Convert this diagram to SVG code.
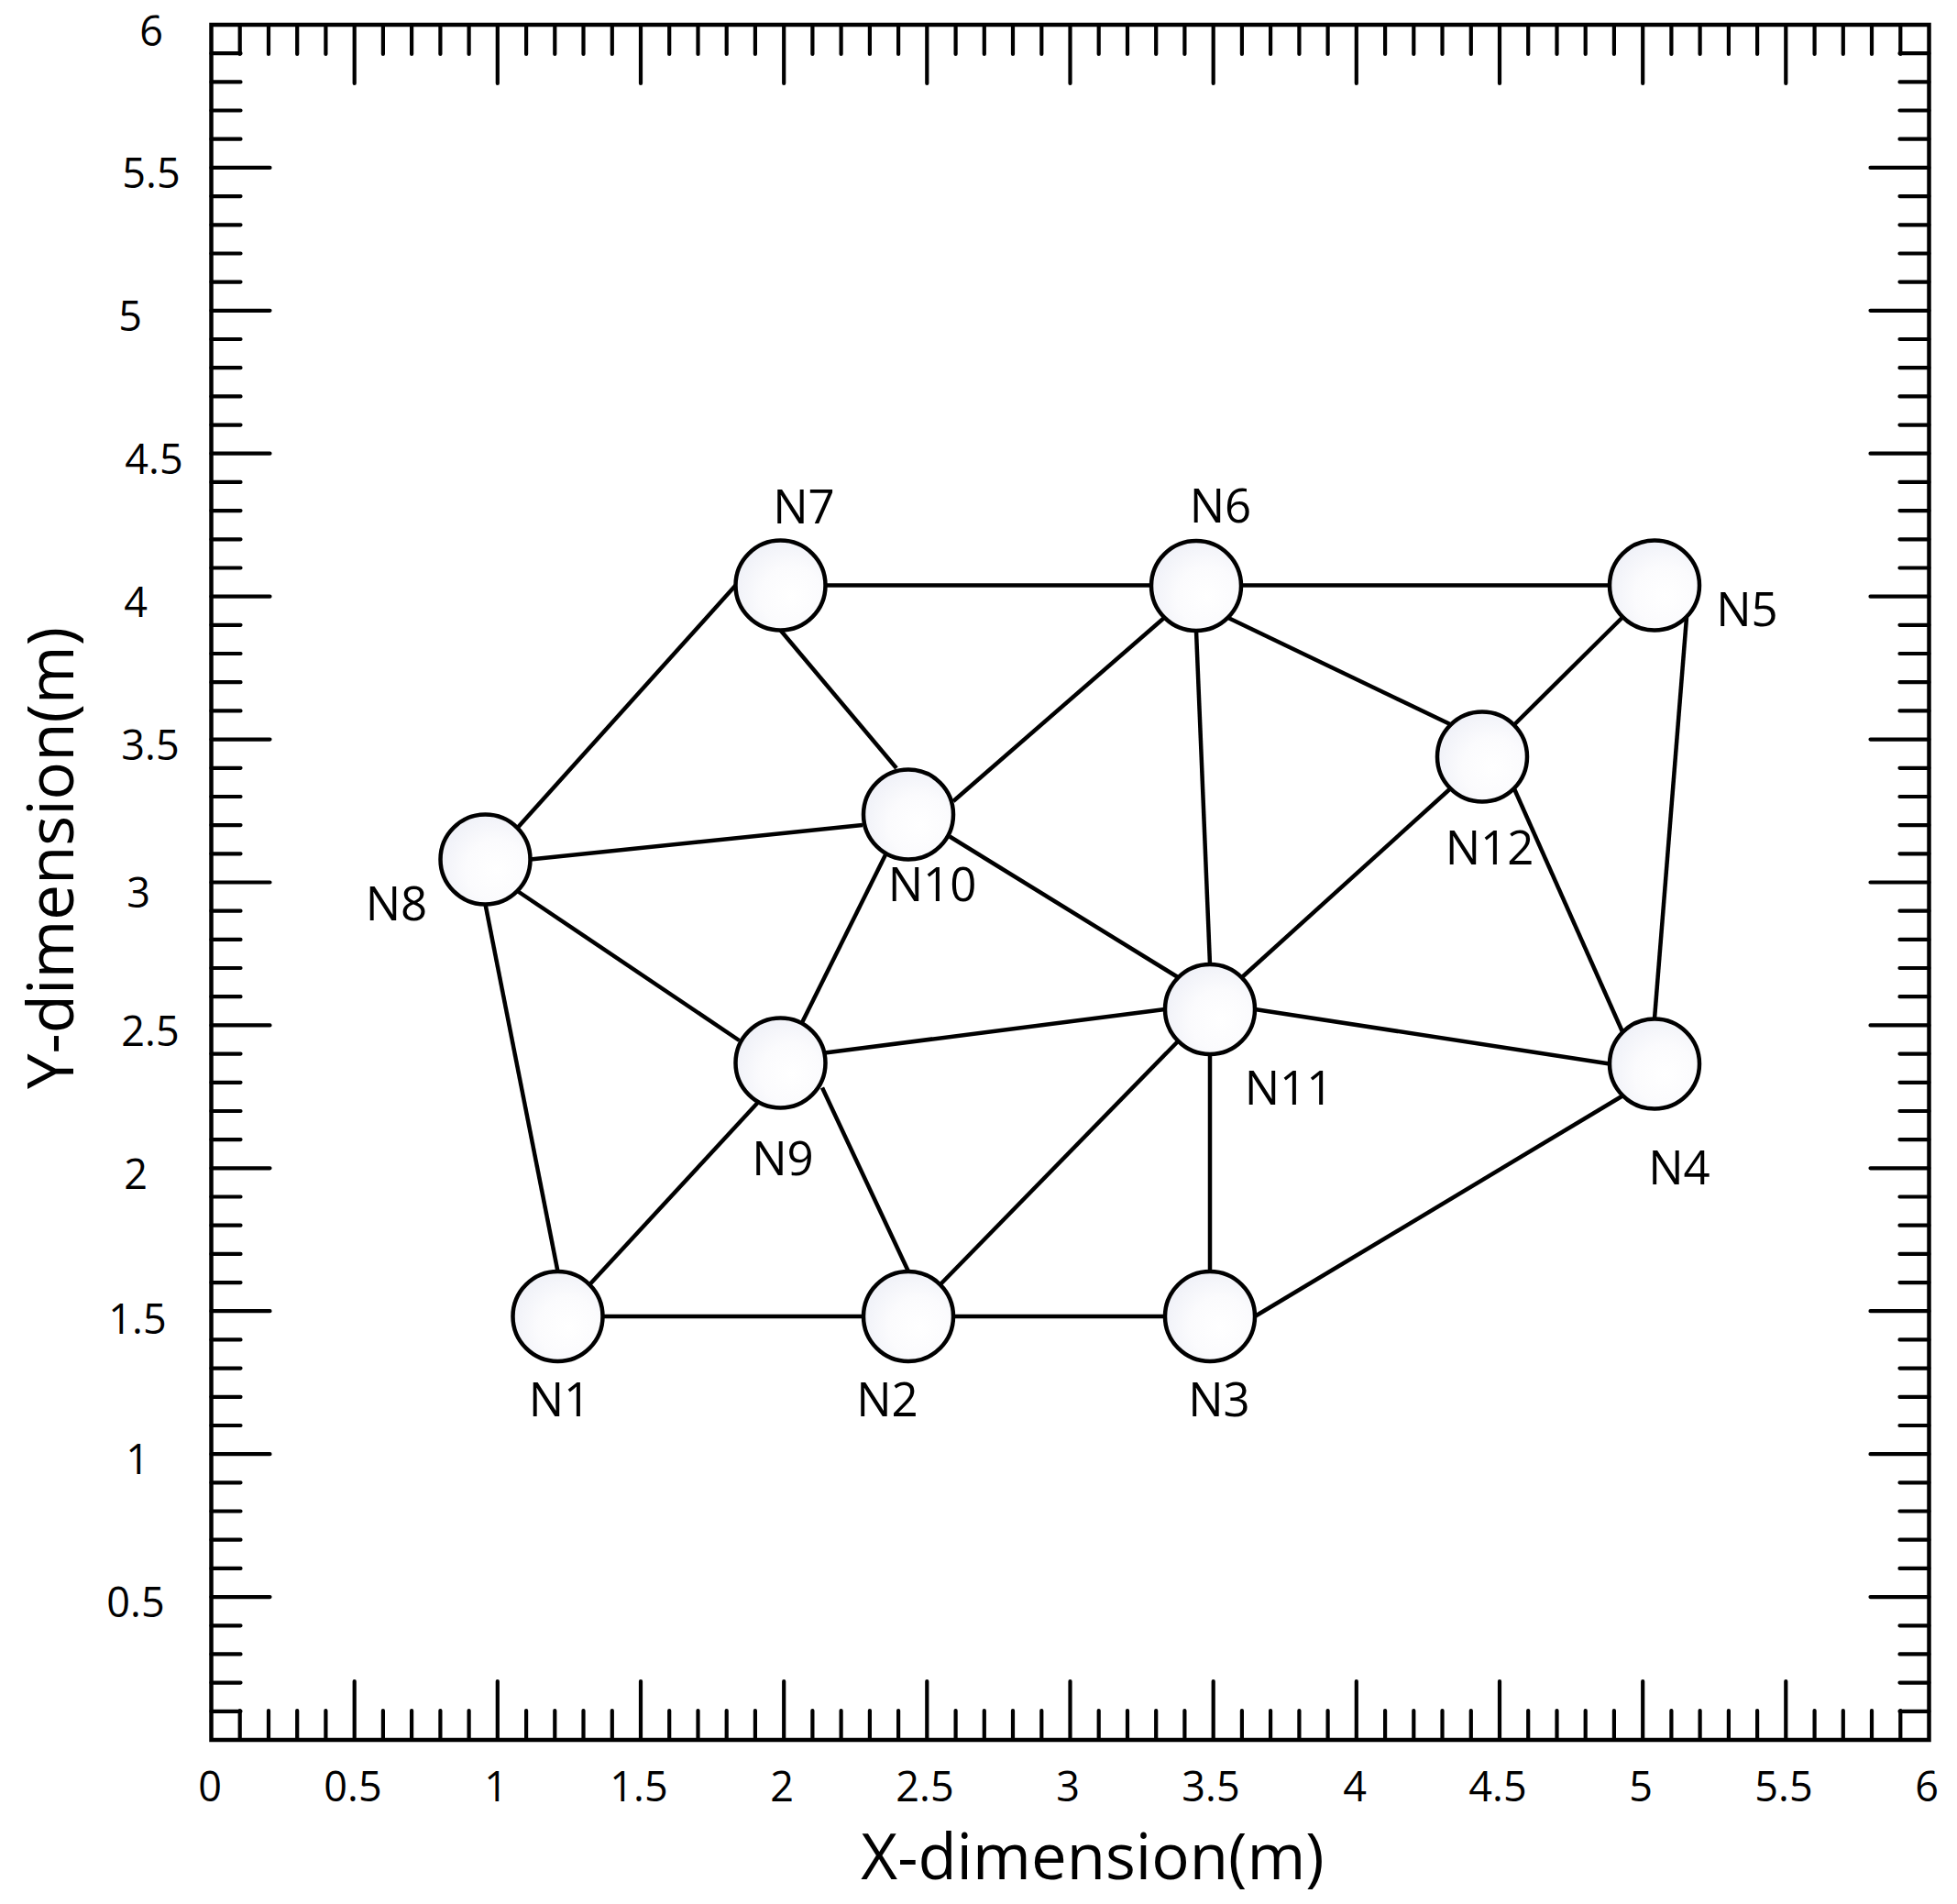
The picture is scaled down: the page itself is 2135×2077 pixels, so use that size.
<svg xmlns="http://www.w3.org/2000/svg" width="2135" height="2077" viewBox="0 0 2135 2077">
<defs>
<radialGradient id="nodeFill" cx="0.62" cy="0.62" r="0.75" fx="0.62" fy="0.62">
<stop offset="0" stop-color="#ffffff"/>
<stop offset="0.45" stop-color="#fbfbfd"/>
<stop offset="1" stop-color="#eceef6"/>
</radialGradient>
</defs>
<style>
.frame{fill:none;stroke:#000;stroke-width:4.5}
.tick{fill:none;stroke:#000;stroke-width:4.2;stroke-linecap:round}
.edge{stroke:#000;stroke-width:4.5;fill:none}
.node circle{fill:url(#nodeFill);stroke:#000;stroke-width:4.5}
.num{font-family:"Open Sans","Noto Sans","DejaVu Sans",sans-serif;font-size:45px;fill:#000;text-anchor:middle}
.lbl{font-family:"Open Sans","Noto Sans","DejaVu Sans",sans-serif;font-size:51px;fill:#000;text-anchor:middle}
.title{font-family:"Open Sans","Noto Sans","DejaVu Sans",sans-serif;font-size:69px;fill:#000;text-anchor:middle}
</style>
<rect width="2135" height="2077" fill="#ffffff"/>
<g id="axes">
<rect class="frame" x="230.5" y="27" width="1874" height="1871"/>
<path class="tick" d="M261.7 27v32M293.0 27v32M324.2 27v32M355.4 27v32M417.9 27v32M449.1 27v32M480.4 27v32M511.6 27v32M574.1 27v32M605.3 27v32M636.5 27v32M667.8 27v32M730.2 27v32M761.5 27v32M792.7 27v32M823.9 27v32M886.4 27v32M917.6 27v32M948.9 27v32M980.1 27v32M1042.6 27v32M1073.8 27v32M1105.0 27v32M1136.3 27v32M1198.7 27v32M1230.0 27v32M1261.2 27v32M1292.4 27v32M1354.9 27v32M1386.1 27v32M1417.4 27v32M1448.6 27v32M1511.1 27v32M1542.3 27v32M1573.5 27v32M1604.8 27v32M1667.2 27v32M1698.5 27v32M1729.7 27v32M1760.9 27v32M1823.4 27v32M1854.6 27v32M1885.9 27v32M1917.1 27v32M1979.6 27v32M2010.8 27v32M2042.0 27v32M2073.3 27v32"/>
<path class="tick" d="M386.7 27v64M542.8 27v64M699.0 27v64M855.2 27v64M1011.3 27v64M1167.5 27v64M1323.7 27v64M1479.8 27v64M1636.0 27v64M1792.2 27v64M1948.3 27v64"/>
<path class="tick" d="M261.7 1898v-32M293.0 1898v-32M324.2 1898v-32M355.4 1898v-32M417.9 1898v-32M449.1 1898v-32M480.4 1898v-32M511.6 1898v-32M574.1 1898v-32M605.3 1898v-32M636.5 1898v-32M667.8 1898v-32M730.2 1898v-32M761.5 1898v-32M792.7 1898v-32M823.9 1898v-32M886.4 1898v-32M917.6 1898v-32M948.9 1898v-32M980.1 1898v-32M1042.6 1898v-32M1073.8 1898v-32M1105.0 1898v-32M1136.3 1898v-32M1198.7 1898v-32M1230.0 1898v-32M1261.2 1898v-32M1292.4 1898v-32M1354.9 1898v-32M1386.1 1898v-32M1417.4 1898v-32M1448.6 1898v-32M1511.1 1898v-32M1542.3 1898v-32M1573.5 1898v-32M1604.8 1898v-32M1667.2 1898v-32M1698.5 1898v-32M1729.7 1898v-32M1760.9 1898v-32M1823.4 1898v-32M1854.6 1898v-32M1885.9 1898v-32M1917.1 1898v-32M1979.6 1898v-32M2010.8 1898v-32M2042.0 1898v-32M2073.3 1898v-32"/>
<path class="tick" d="M386.7 1898v-64M542.8 1898v-64M699.0 1898v-64M855.2 1898v-64M1011.3 1898v-64M1167.5 1898v-64M1323.7 1898v-64M1479.8 1898v-64M1636.0 1898v-64M1792.2 1898v-64M1948.3 1898v-64"/>
<path class="tick" d="M230.5 58.2h32M230.5 89.4h32M230.5 120.5h32M230.5 151.7h32M230.5 214.1h32M230.5 245.3h32M230.5 276.5h32M230.5 307.6h32M230.5 370.0h32M230.5 401.2h32M230.5 432.4h32M230.5 463.6h32M230.5 525.9h32M230.5 557.1h32M230.5 588.3h32M230.5 619.5h32M230.5 681.8h32M230.5 713.0h32M230.5 744.2h32M230.5 775.4h32M230.5 837.8h32M230.5 869.0h32M230.5 900.1h32M230.5 931.3h32M230.5 993.7h32M230.5 1024.9h32M230.5 1056.0h32M230.5 1087.2h32M230.5 1149.6h32M230.5 1180.8h32M230.5 1212.0h32M230.5 1243.1h32M230.5 1305.5h32M230.5 1336.7h32M230.5 1367.9h32M230.5 1399.1h32M230.5 1461.4h32M230.5 1492.6h32M230.5 1523.8h32M230.5 1555.0h32M230.5 1617.3h32M230.5 1648.5h32M230.5 1679.7h32M230.5 1710.9h32M230.5 1773.3h32M230.5 1804.4h32M230.5 1835.6h32M230.5 1866.8h32"/>
<path class="tick" d="M230.5 182.9h64M230.5 338.8h64M230.5 494.7h64M230.5 650.7h64M230.5 806.6h64M230.5 962.5h64M230.5 1118.4h64M230.5 1274.3h64M230.5 1430.2h64M230.5 1586.2h64M230.5 1742.1h64"/>
<path class="tick" d="M2104.5 58.2h-32M2104.5 89.4h-32M2104.5 120.5h-32M2104.5 151.7h-32M2104.5 214.1h-32M2104.5 245.3h-32M2104.5 276.5h-32M2104.5 307.6h-32M2104.5 370.0h-32M2104.5 401.2h-32M2104.5 432.4h-32M2104.5 463.6h-32M2104.5 525.9h-32M2104.5 557.1h-32M2104.5 588.3h-32M2104.5 619.5h-32M2104.5 681.8h-32M2104.5 713.0h-32M2104.5 744.2h-32M2104.5 775.4h-32M2104.5 837.8h-32M2104.5 869.0h-32M2104.5 900.1h-32M2104.5 931.3h-32M2104.5 993.7h-32M2104.5 1024.9h-32M2104.5 1056.0h-32M2104.5 1087.2h-32M2104.5 1149.6h-32M2104.5 1180.8h-32M2104.5 1212.0h-32M2104.5 1243.1h-32M2104.5 1305.5h-32M2104.5 1336.7h-32M2104.5 1367.9h-32M2104.5 1399.1h-32M2104.5 1461.4h-32M2104.5 1492.6h-32M2104.5 1523.8h-32M2104.5 1555.0h-32M2104.5 1617.3h-32M2104.5 1648.5h-32M2104.5 1679.7h-32M2104.5 1710.9h-32M2104.5 1773.3h-32M2104.5 1804.4h-32M2104.5 1835.6h-32M2104.5 1866.8h-32"/>
<path class="tick" d="M2104.5 182.9h-64M2104.5 338.8h-64M2104.5 494.7h-64M2104.5 650.7h-64M2104.5 806.6h-64M2104.5 962.5h-64M2104.5 1118.4h-64M2104.5 1274.3h-64M2104.5 1430.2h-64M2104.5 1586.2h-64M2104.5 1742.1h-64"/>
</g>
<g id="x-tick-labels">
<text class="num" x="229" y="1965">0</text>
<text class="num" x="385" y="1965">0.5</text>
<text class="num" x="541" y="1965">1</text>
<text class="num" x="697" y="1965">1.5</text>
<text class="num" x="853" y="1965">2</text>
<text class="num" x="1009" y="1965">2.5</text>
<text class="num" x="1165" y="1965">3</text>
<text class="num" x="1321" y="1965">3.5</text>
<text class="num" x="1478" y="1965">4</text>
<text class="num" x="1634" y="1965">4.5</text>
<text class="num" x="1790" y="1965">5</text>
<text class="num" x="1946" y="1965">5.5</text>
<text class="num" x="2102" y="1965">6</text>
</g>
<g id="y-tick-labels">
<text class="num" x="165" y="50">6</text>
<text class="num" x="165" y="205">5.5</text>
<text class="num" x="142" y="361">5</text>
<text class="num" x="168" y="517">4.5</text>
<text class="num" x="148" y="673">4</text>
<text class="num" x="164" y="829">3.5</text>
<text class="num" x="151" y="990">3</text>
<text class="num" x="164" y="1141">2.5</text>
<text class="num" x="148" y="1297">2</text>
<text class="num" x="150" y="1455">1.5</text>
<text class="num" x="150" y="1608">1</text>
<text class="num" x="148" y="1764">0.5</text>
</g>
<text id="x-title" class="title" x="1192" y="2050">X-dimension(m)</text>
<text id="y-title" class="title" transform="translate(80,936) rotate(-90)" x="0" y="0">Y-dimension(m)</text>
<g id="connectors">
<line class="edge" x1="608.5" y1="1436" x2="991" y2="1436"/>
<line class="edge" x1="991" y1="1436" x2="1320" y2="1436"/>
<line class="edge" x1="1369" y1="1436" x2="1770" y2="1195.5"/>
<line class="edge" x1="1805" y1="1111.5" x2="1840" y2="673.5"/>
<line class="edge" x1="1805" y1="638.5" x2="1305" y2="638.5"/>
<line class="edge" x1="1305" y1="638.5" x2="851.5" y2="638.5"/>
<line class="edge" x1="802.5" y1="638.5" x2="565" y2="902.5"/>
<line class="edge" x1="851.5" y1="687.5" x2="978" y2="838"/>
<line class="edge" x1="578.5" y1="937.5" x2="941" y2="900"/>
<line class="edge" x1="564.5" y1="972" x2="806.5" y2="1135"/>
<line class="edge" x1="529.5" y1="986.5" x2="608.5" y2="1387"/>
<line class="edge" x1="643.5" y1="1401" x2="826.5" y2="1203"/>
<line class="edge" x1="897" y1="1186.5" x2="991" y2="1387"/>
<line class="edge" x1="874.5" y1="1116.5" x2="966" y2="932.5"/>
<line class="edge" x1="900" y1="1148.5" x2="1271" y2="1101"/>
<line class="edge" x1="1040" y1="874" x2="1270" y2="674"/>
<line class="edge" x1="1036" y1="912.5" x2="1285" y2="1066"/>
<line class="edge" x1="1305" y1="688" x2="1320" y2="1052"/>
<line class="edge" x1="1340" y1="674" x2="1582" y2="790"/>
<line class="edge" x1="1652" y1="790.5" x2="1770" y2="673.5"/>
<line class="edge" x1="1582" y1="860.5" x2="1355" y2="1066"/>
<line class="edge" x1="1652" y1="860.5" x2="1770" y2="1125.5"/>
<line class="edge" x1="1369" y1="1101" x2="1756" y2="1160.5"/>
<line class="edge" x1="1320" y1="1150" x2="1320" y2="1387"/>
<line class="edge" x1="1285" y1="1136" x2="1026" y2="1401"/>
</g>
<g id="N1" class="node"><circle cx="608.5" cy="1436" r="49"/><text class="lbl" x="610.5" y="1545">N1</text></g>
<g id="N2" class="node"><circle cx="991" cy="1436" r="49"/><text class="lbl" x="968" y="1545">N2</text></g>
<g id="N3" class="node"><circle cx="1320" cy="1436" r="49"/><text class="lbl" x="1330" y="1545">N3</text></g>
<g id="N4" class="node"><circle cx="1805" cy="1160.5" r="49"/><text class="lbl" x="1832" y="1292">N4</text></g>
<g id="N5" class="node"><circle cx="1805" cy="638.5" r="49"/><text class="lbl" x="1906" y="683">N5</text></g>
<g id="N6" class="node"><circle cx="1305" cy="639" r="49"/><text class="lbl" x="1331.5" y="570">N6</text></g>
<g id="N7" class="node"><circle cx="851.5" cy="638.5" r="49"/><text class="lbl" x="877" y="571">N7</text></g>
<g id="N8" class="node"><circle cx="529.5" cy="937.5" r="49"/><text class="lbl" x="432.5" y="1004">N8</text></g>
<g id="N9" class="node"><circle cx="851.5" cy="1159.5" r="49"/><text class="lbl" x="854" y="1282">N9</text></g>
<g id="N10" class="node"><circle cx="991" cy="888.5" r="49"/><text class="lbl" x="1017" y="983">N10</text></g>
<g id="N11" class="node"><circle cx="1320" cy="1101" r="49"/><text class="lbl" x="1406" y="1205">N11</text></g>
<g id="N12" class="node"><circle cx="1617" cy="825.5" r="49"/><text class="lbl" x="1625" y="943">N12</text></g>
</svg>
